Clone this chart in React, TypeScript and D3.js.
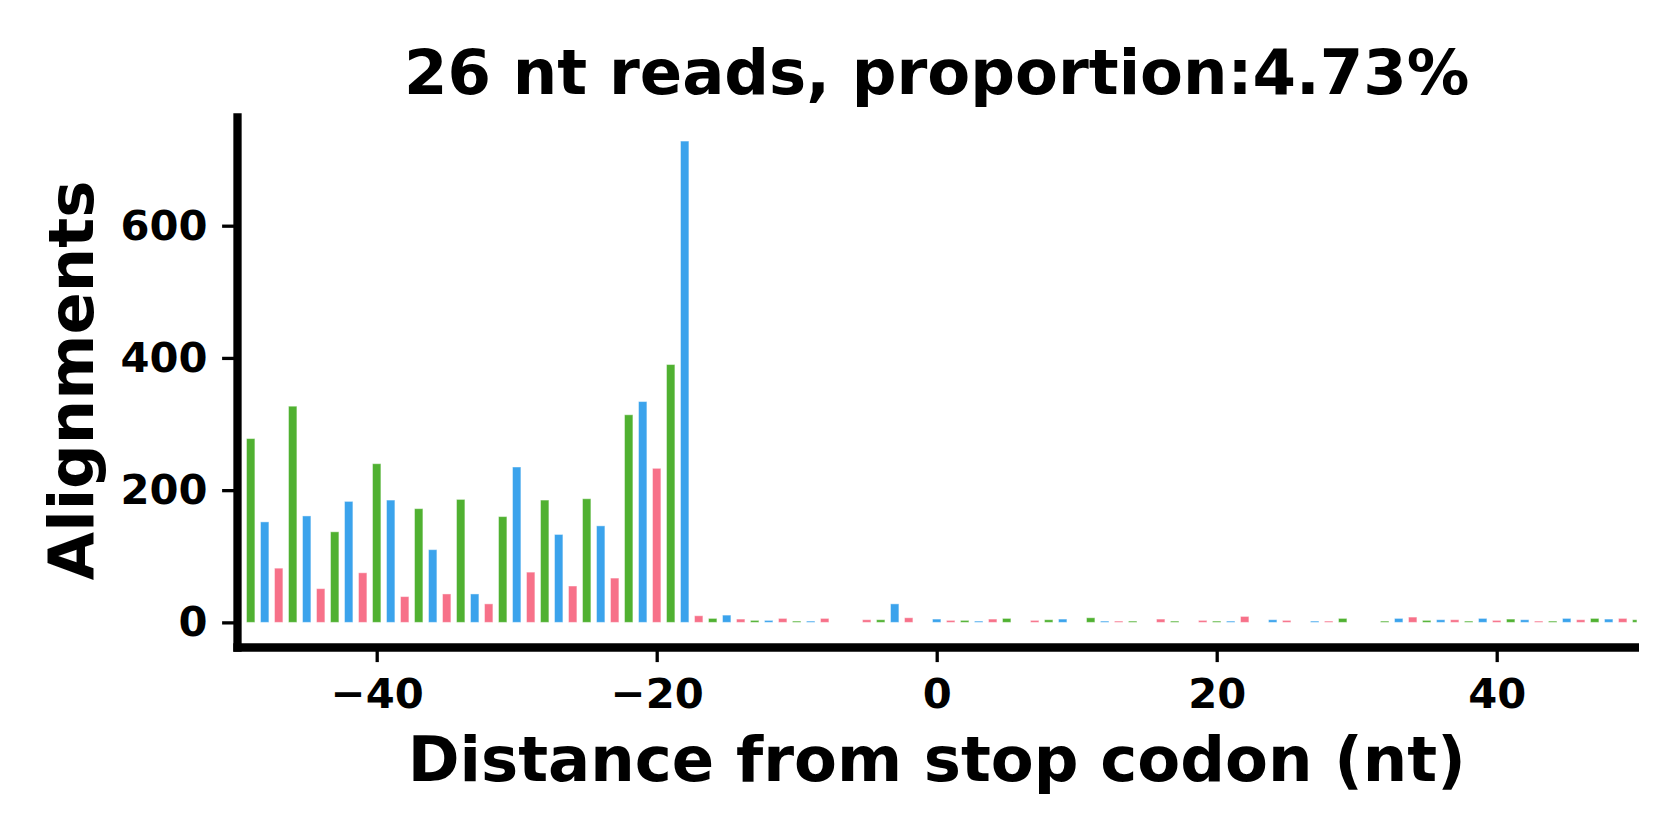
import React, { useEffect, useRef } from "react";
import { select, scaleLinear, axisLeft, axisBottom, range } from "d3";

// distance from stop codon, -50 .. 50 (one bar per nt)
const positions = range(-50, 51);

// alignments per position (-50 .. 50)
const counts = [
  50, 278, 152, 82, 327, 161, 51, 137, 183, 75,
  240, 185, 39, 172, 110, 43, 186, 43, 28, 160,
  235, 76, 185, 133, 55, 187, 146, 67, 314, 334,
  233, 390, 728, 10, 6, 11, 5, 3, 3, 6,
  2, 2, 6, 0, 0, 4, 4, 28, 7, 0,
  5, 3, 3, 2, 5, 6, 0, 3, 4, 5,
  0, 7, 2, 2, 2, 0, 5, 2, 0, 3,
  2, 2, 9, 0, 4, 3, 0, 2, 2, 6,
  0, 0, 2, 6, 8, 3, 4, 4, 2, 6,
  3, 5, 4, 2, 2, 6, 4, 6, 5, 6,
  4,
];

const yTicks = [0, 200, 400, 600];
const xTicks = [-40, -20, 0, 20, 40];

// reading frame colours (husl palette)
const frameColors = ["#f77189", "#50b131", "#3ba3ec"];

const titleText = "26 nt reads, proportion:4.73%";
const xLabel = "Distance from stop codon (nt)";
const yLabel = "Alignments";

const FONT = "'DejaVu Sans', sans-serif";

const App = () => {
  const ref = useRef<SVGSVGElement>(null);

  useEffect(() => {
    const svg = select(ref.current);
    svg.selectAll("*").remove();

    const left = 236.7;
    const right = 1636.7;
    const top = 113.3;
    const bottom = 647.5;

    const x = scaleLinear().domain([-50, 50]).range([left, right]);
    const y = scaleLinear().domain([-38, 770]).range([bottom, top]);
    const barW = (x(0.6) as number) - (x(0) as number);

    svg
      .append("defs")
      .append("clipPath")
      .attr("id", "plotArea")
      .append("rect")
      .attr("x", left)
      .attr("y", top)
      .attr("width", right - left)
      .attr("height", bottom - top);

    // bars
    svg
      .append("g")
      .attr("clip-path", "url(#plotArea)")
      .selectAll("rect")
      .data(positions.map((p, i) => ({ p, v: counts[i] })))
      .enter()
      .append("rect")
      .attr("x", (d) => x(d.p) - barW / 2)
      .attr("width", barW)
      .attr("y", (d) => y(d.v))
      .attr("height", (d) => y(0) - y(d.v))
      .attr("fill", (d) => frameColors[(d.p + 50) % 3])
      .attr("stroke", "#ffffff")
      .attr("stroke-opacity", 0.45)
      .attr("stroke-width", 1);

    // y axis
    const gy = svg
      .append("g")
      .attr("transform", `translate(${left},0)`)
      .call(axisLeft(y).tickValues(yTicks).tickSize(14.6).tickPadding(14.5));
    gy.select(".domain").remove();
    gy.selectAll(".tick line").attr("stroke", "#000").attr("stroke-width", 3.3);
    gy.selectAll(".tick text")
      .attr("fill", "#000")
      .style("font-family", FONT)
      .style("font-weight", "bold")
      .style("font-size", "41.7px");

    // x axis
    const gx = svg
      .append("g")
      .attr("transform", `translate(0,${bottom})`)
      .call(axisBottom(x).tickValues(xTicks).tickSize(14.6).tickPadding(16.6));
    gx.select(".domain").remove();
    gx.selectAll(".tick line").attr("stroke", "#000").attr("stroke-width", 3.3);
    gx.selectAll(".tick text")
      .attr("fill", "#000")
      .style("font-family", FONT)
      .style("font-weight", "bold")
      .style("font-size", "41.7px");

    // spines
    svg
      .append("line")
      .attr("x1", left + 0.8)
      .attr("x2", left + 0.8)
      .attr("y1", top)
      .attr("y2", bottom + 4.2)
      .attr("stroke", "#000")
      .attr("stroke-width", 8.3);
    svg
      .append("line")
      .attr("x1", left - 3.4)
      .attr("x2", right + 2.3)
      .attr("y1", bottom)
      .attr("y2", bottom)
      .attr("stroke", "#000")
      .attr("stroke-width", 8.3);

    // labels
    svg
      .append("text")
      .attr("x", (left + right) / 2)
      .attr("y", 94)
      .attr("text-anchor", "middle")
      .style("font-family", FONT)
      .style("font-weight", "bold")
      .style("font-size", "62.5px")
      .text(titleText);

    svg
      .append("text")
      .attr("x", (left + right) / 2)
      .attr("y", 781)
      .attr("text-anchor", "middle")
      .style("font-family", FONT)
      .style("font-weight", "bold")
      .style("font-size", "62.5px")
      .text(xLabel);

    svg
      .append("text")
      .attr("transform", `translate(93,${(top + bottom) / 2}) rotate(-90)`)
      .attr("text-anchor", "middle")
      .style("font-family", FONT)
      .style("font-weight", "bold")
      .style("font-size", "62.5px")
      .text(yLabel);
  }, []);

  return (
    <svg
      ref={ref}
      width={1680}
      height={840}
      style={{ position: "absolute", left: 0, top: 0, background: "#fff" }}
    ></svg>
  );
};

export default App;
